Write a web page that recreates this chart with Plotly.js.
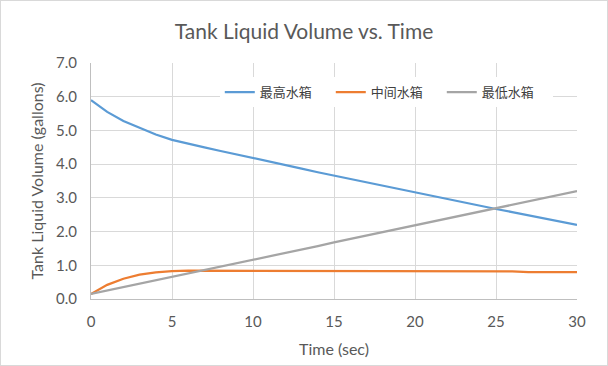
<!DOCTYPE html>
<html><head><meta charset="utf-8">
<script src="https://cdn.plot.ly/plotly-3.0.1.min.js"></script>
<style>html,body{margin:0;padding:0;background:#fff}#c{width:608px;height:366px;box-sizing:border-box;border:1px solid #d9d9d9}</style>
</head><body><div id="c"></div>
<script>
const time = [0,1,2,3,4,5,6,7,8,9,10,11,12,13,14,15,16,17,18,19,20,21,22,23,24,25,26,27,28,29,30];
const topTank = [5.9,5.55,5.28,5.07,4.88,4.72,4.6,4.5,4.39,4.29,4.18,4.08,3.98,3.87,3.76,3.66,3.56,3.46,3.36,3.25,3.15,3.05,2.95,2.86,2.76,2.67,2.58,2.48,2.39,2.29,2.2];
const midTank = [0.15,0.42,0.6,0.72,0.79,0.83,0.84,0.84,0.84,0.84,0.84,0.84,0.84,0.84,0.82,0.82,0.82,0.82,0.82,0.82,0.82,0.82,0.82,0.82,0.82,0.82,0.82,0.8,0.8,0.8,0.8];
const lowTank = [0.15,0.25,0.35,0.45,0.55,0.65,0.76,0.86,0.96,1.06,1.16,1.27,1.37,1.47,1.57,1.68,1.78,1.88,1.98,2.08,2.18,2.28,2.38,2.48,2.58,2.68,2.78,2.89,2.99,3.09,3.2];
const names = ['最高水箱','中间水箱','最低水箱'];
const colors = ['#5B9BD5','#ED7D31','#A5A5A5'];
const series = [topTank, midTank, lowTank];
const traces = series.map((y,i)=>({x:time,y:y,name:names[i],type:'scatter',mode:'lines',line:{color:colors[i],width:2.25}}));
const font = 'Lato, "Noto Sans CJK SC", sans-serif';
Plotly.newPlot('c', traces, {
  width:606, height:364,
  margin:{l:90,r:30,t:62,b:66},
  paper_bgcolor:'#fff', plot_bgcolor:'#fff',
  font:{family:font,color:'#595959',size:14},
  title:{text:'Tank Liquid Volume vs. Time',font:{size:21,color:'#595959',family:font},x:0.5,xanchor:'center',y:0.915,yanchor:'middle'},
  xaxis:{range:[0,30],dtick:5,tick0:0,showgrid:true,gridcolor:'#d9d9d9',showline:true,linecolor:'#bfbfbf',zeroline:false,ticks:'',ticklabelstandoff:9,
    title:{text:'Time (sec)',font:{size:16,color:'#595959'},standoff:14},tickfont:{size:15}},
  yaxis:{range:[0,7],dtick:1,tickformat:'.1f',showgrid:true,gridcolor:'#d9d9d9',showline:true,linecolor:'#bfbfbf',zeroline:false,ticks:'',ticklabelstandoff:10,
    title:{text:'Tank Liquid Volume (gallons)',font:{size:16,color:'#595959'},standoff:8},tickfont:{size:15}},
  legend:{orientation:'h',x:0.265,y:0.94,xanchor:'left',yanchor:'top',bgcolor:'#fff',entrywidth:66,
    font:{family:'"Noto Sans CJK SC", sans-serif',size:13,color:'#404040'},itemwidth:30,tracegroupgap:0}
},{displayModeBar:false,staticPlot:true});
</script></body></html>
